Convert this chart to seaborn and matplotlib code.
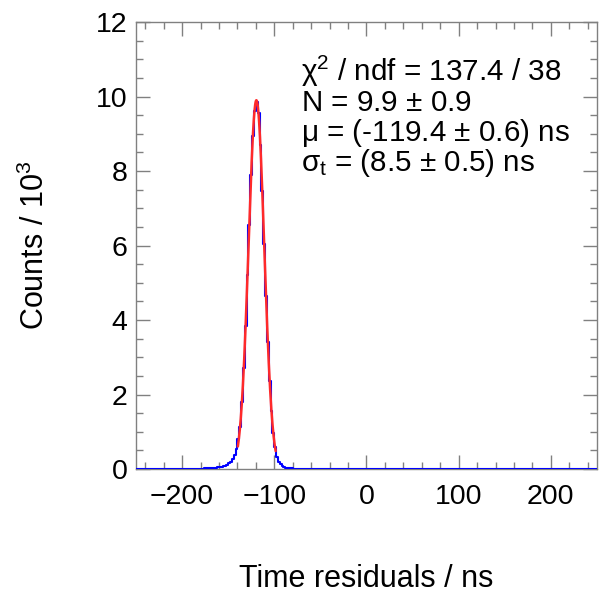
import numpy as np
import pandas as pd
import matplotlib
matplotlib.use("Agg")
import matplotlib.pyplot as plt
import seaborn as sns
from matplotlib.ticker import MultipleLocator

# histogram binning (ns)
x_min, x_max, bin_width = -250, 250, 2
peak_start = -180
peak_counts = [0.01, 0.01, 0.02, 0.02, 0.02, 0.03, 0.03, 0.03, 0.04, 0.05,
               0.05, 0.06, 0.08, 0.09, 0.11, 0.15, 0.19, 0.26, 0.38, 0.55,
               0.80, 1.12, 1.80, 2.70, 3.85, 5.20, 6.55, 7.90, 8.95, 9.60,
               9.85, 9.55, 8.70, 7.45, 6.05, 4.65, 3.40, 2.35, 1.55, 0.98,
               0.58, 0.33, 0.20, 0.13, 0.08, 0.06, 0.04, 0.03, 0.02, 0.02]
baseline_count = 0.01

# gaussian fit result shown in the stat box
fit_N, fit_mu, fit_sigma = 9.9, -119.4, 8.5
fit_range = (-139.5, -98.5)

stat_lines = [r"$\chi^2$ / ndf = 137.4 / 38",
              r"N = 9.9 $\pm$ 0.9",
              r"$\mu$ = (-119.4 $\pm$ 0.6) ns",
              r"$\sigma_t$ = (8.5 $\pm$ 0.5) ns"]

edges = np.arange(x_min, x_max + bin_width, bin_width)
centers = edges[:-1] + bin_width / 2
counts = np.full(len(centers), baseline_count)
i0 = int((peak_start - x_min) / bin_width)
counts[i0:i0 + len(peak_counts)] = peak_counts
df_hist = pd.DataFrame({"t": centers, "n": counts})

fit_x = np.linspace(fit_range[0], fit_range[1], 300)
fit_y = fit_N * np.exp(-0.5 * ((fit_x - fit_mu) / fit_sigma) ** 2)
df_fit = pd.DataFrame({"t": fit_x, "f": fit_y})

sns.set_style("ticks")
plt.rcParams["font.family"] = ["Liberation Sans", "DejaVu Sans"]
plt.rcParams["mathtext.fontset"] = "custom"
plt.rcParams["mathtext.rm"] = "Liberation Sans"
plt.rcParams["mathtext.it"] = "Liberation Sans"
plt.rcParams["mathtext.default"] = "regular"
plt.rcParams["text.color"] = "black"
plt.rcParams["axes.labelcolor"] = "black"

fig = plt.figure(figsize=(6.03, 5.98), dpi=100)
ax = fig.add_axes([0.2255, 0.2157, 0.7645, 0.7475])

sns.histplot(data=df_hist, x="t", weights="n", binwidth=bin_width, binrange=(x_min, x_max),
             element="step", fill=False, color="blue", linewidth=1.5, ax=ax, zorder=3)
sns.lineplot(data=df_fit, x="t", y="f", color="#ff2a2a", linewidth=1.8, ax=ax, zorder=4)

ax.set_xlim(x_min, x_max)
ax.set_ylim(0, 12)
ax.xaxis.set_major_locator(MultipleLocator(100))
ax.xaxis.set_minor_locator(MultipleLocator(20))
ax.yaxis.set_major_locator(MultipleLocator(2))
ax.yaxis.set_minor_locator(MultipleLocator(0.5))
ax.tick_params(which="both", direction="in", top=True, right=True, color="0.5", width=1,
               labelcolor="black")
ax.tick_params(which="major", length=10)
ax.tick_params(which="minor", length=5)
ax.tick_params(axis="x", labelsize=20.5, pad=11)
ax.tick_params(axis="y", labelsize=20.5, pad=6)
for s in ax.spines.values():
    s.set_color("0.5")
    s.set_linewidth(1)

ax.set_xlabel("Time residuals / ns", fontsize=22)
ax.set_ylabel(r"Counts / $10^3$", fontsize=22)
ax.xaxis.set_label_coords(0.5, -0.213)
ax.yaxis.set_label_coords(-0.185, 0.5)

for k, line in enumerate(stat_lines):
    ax.text(0.358, 0.868 - k * 0.067, line, transform=ax.transAxes,
            fontsize=21.3, ha="left", va="baseline")

fig.savefig("out.png", dpi=100)
